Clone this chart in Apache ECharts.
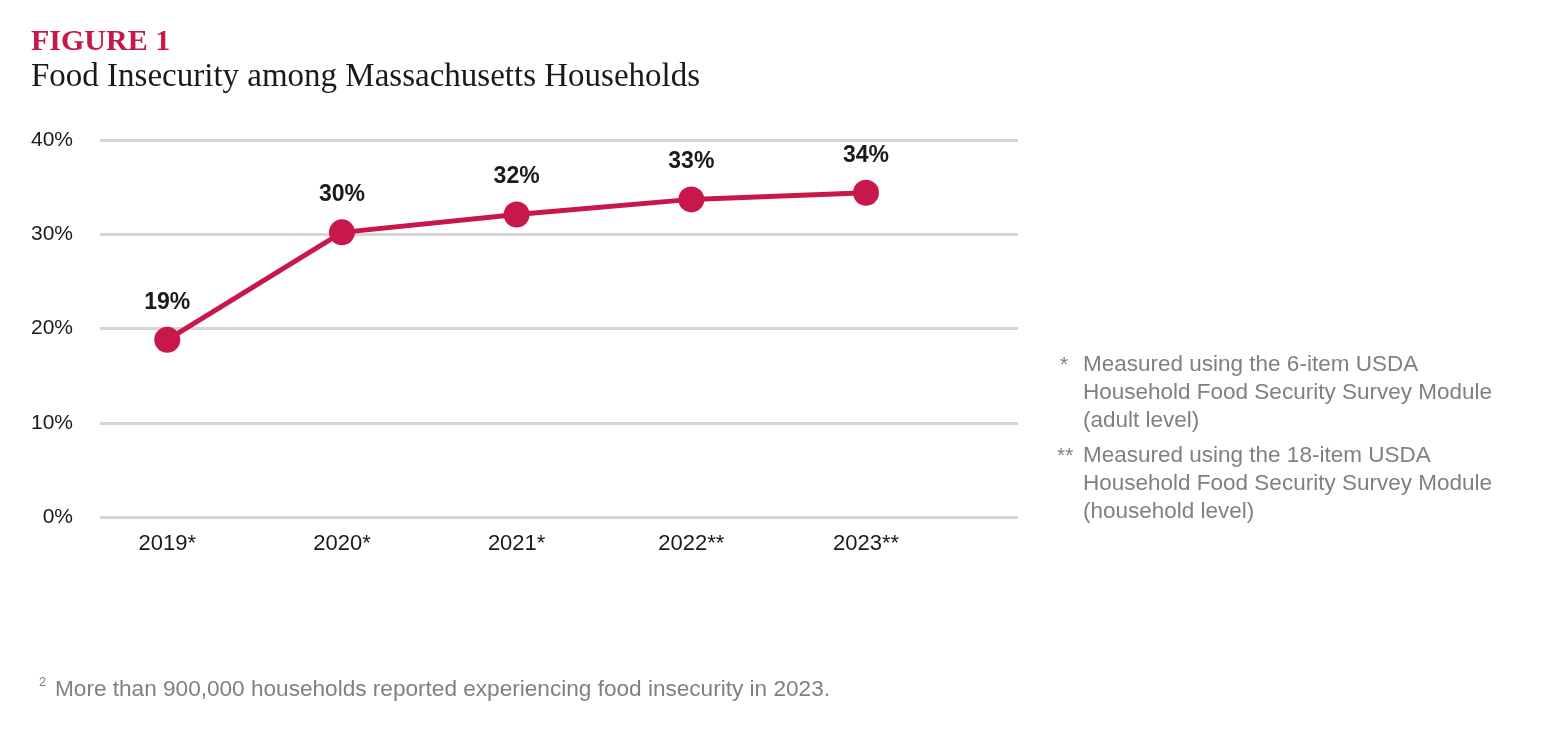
<!DOCTYPE html>
<html><head><meta charset="utf-8">
<script src="https://cdn.jsdelivr.net/npm/echarts@6/dist/echarts.min.js"></script>
<style>html,body{margin:0;padding:0;background:#fff}#c{width:1546px;height:729px}</style>
</head><body><div id="c"></div>
<script>
const categories = ["2019*", "2020*", "2021*", "2022**", "2023**"];
const values = [18.8, 30.2, 32.1, 33.7, 34.4];
const valueLabels = ["19%", "30%", "32%", "33%", "34%"];
const yTicks = [0, 10, 20, 30, 40];
const notes = [
  ["*", "Measured using the 6-item USDA", "Household Food Security Survey Module", "(adult level)"],
  ["**", "Measured using the 18-item USDA", "Household Food Security Survey Module", "(household level)"]
];
const footnote = "More than 900,000 households reported experiencing food insecurity in 2023.";

const chart = echarts.init(document.getElementById('c'));
const red = '#c8174a';
const gray = '#808080';
const sans = '"Liberation Sans", Arial, sans-serif';
const graphics = [];
let y = 353;
notes.forEach(n => {
  graphics.push({type:'text', left: n[0] === '*' ? 1060 : 1057, top: y + 2, style:{text:n[0], font:'21px ' + sans, fill:gray}});
  n.slice(1).forEach((line, i) => {
    graphics.push({type:'text', left:1083, top:y + i*28, style:{text:line, font:'22.5px ' + sans, fill:gray}});
  });
  y += 91;
});
graphics.push({type:'text', left:39, top:676, style:{text:'2', font:'13px ' + sans, fill:gray}});
graphics.push({type:'text', left:55, top:678, style:{text:footnote, font:'22.6px ' + sans, fill:gray}});

chart.setOption({
  animation:false,
  backgroundColor:'#fff',
  title:[
    {text:'FIGURE 1', left:26, top:22, textStyle:{fontFamily:'"Liberation Serif", "DejaVu Serif", serif', fontWeight:'bold', fontSize:30, color:red}},
    {text:'Food Insecurity among Massachusetts Households', left:26, top:56, textStyle:{fontFamily:'"Liberation Serif", "DejaVu Serif", serif', fontWeight:'normal', fontSize:33, color:'#1a1a1a'}}
  ],
  grid:{left:100, right:1546-1018, top:140, bottom:729-517, containLabel:false},
  xAxis:{type:'value', min:-0.385, max:4.87,
    axisLine:{show:false}, axisTick:{show:false}, splitLine:{show:false},
    axisLabel:{customValues:[0,1,2,3,4], formatter:v => categories[Math.round(v)], margin:16,
      fontFamily:sans, fontSize:22, color:'#1a1a1a', showMinLabel:true, showMaxLabel:true}},
  yAxis:{type:'value', min:yTicks[0], max:yTicks[yTicks.length-1], interval:10,
    axisLine:{show:false}, axisTick:{show:false},
    splitLine:{lineStyle:{color:'#d6d6d6', width:3}},
    axisLabel:{formatter:'{value}%', margin:27, fontFamily:sans, fontSize:21, color:'#1a1a1a'}},
  series:[{
    type:'line',
    data: values.map((v,i)=>[i,v]),
    symbol:'circle', symbolSize:26,
    lineStyle:{color:red, width:5},
    itemStyle:{color:red},
    label:{show:true, position:'top', distance:13, formatter:p => valueLabels[p.dataIndex],
      fontFamily:sans, fontWeight:'bold', fontSize:23, color:'#1a1a1a'}
  }],
  graphic:graphics
});
</script></body></html>
